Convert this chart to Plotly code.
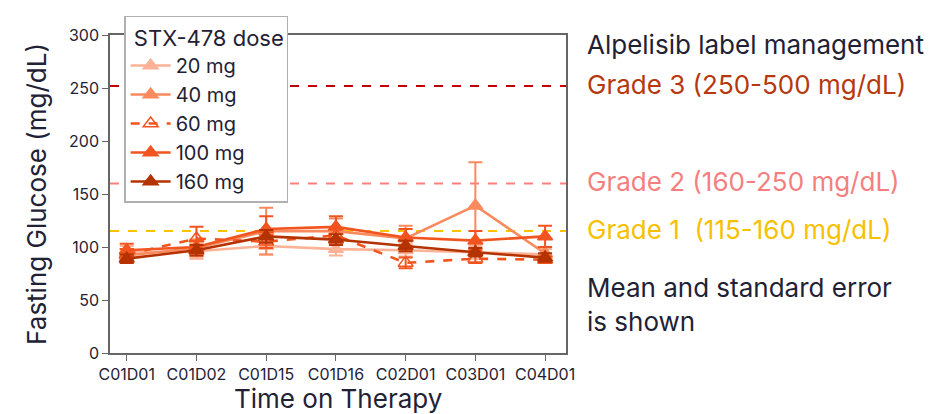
import plotly.graph_objects as go

visits = ["C01D01", "C01D02", "C01D15", "C01D16", "C02D01", "C03D01", "C04D01"]

dose_20 = [95, 96, 101, 98, 97, 95, 93]
dose_20_se = [6, 7, 8, 6, 6, 6, 5]
dose_40 = [92, 99, 115, 115, 108, 139, 94]
dose_40_se = [6, 8, 22, 12, 12, 41, 6]
dose_60 = [93, 108, 105, 111, 85, 89, 88]
dose_60_se = [5, 11, 6, 6, 5, 4, 3]
dose_100 = [97, 100, 117, 119, 109, 106, 110]
dose_100_se = [6, 6, 12, 10, 8, 9, 10]
dose_160 = [89, 97, 110, 107, 101, 95, 90]
dose_160_se = [4, 5, 6, 5, 5, 4, 4]

series_names = ["20 mg", "40 mg", "60 mg", "100 mg", "160 mg"]
thresholds = [252, 160, 115]
threshold_labels = ["Grade 3 (250-500 mg/dL)", "Grade 2 (160-250 mg/dL)", "Grade 1  (115-160 mg/dL)"]
threshold_colors = ["#c00000", "#ff7f7f", "#ffc000"]
threshold_text_colors = ["#b5380e", "#f47f7f", "#f7c000"]

FONT = "Inter, Roboto, sans-serif"
DARK = "#1f2235"

styles = [
    dict(color="#fcb296", dash="solid", symbol="triangle-up"),
    dict(color="#f98a5e", dash="solid", symbol="triangle-up"),
    dict(color="#f2541f", dash="dash", symbol="triangle-up-open"),
    dict(color="#f2541f", dash="solid", symbol="triangle-up"),
    dict(color="#b43300", dash="solid", symbol="triangle-up"),
]
values = [dose_20, dose_40, dose_60, dose_100, dose_160]
errors = [dose_20_se, dose_40_se, dose_60_se, dose_100_se, dose_160_se]

fig = go.Figure()

for name, vals, err, st in zip(series_names, values, errors, styles):
    fig.add_trace(go.Scatter(
        x=visits, y=vals, name=name, mode="lines+markers",
        line=dict(color=st["color"], width=2.6, dash=st["dash"]),
        marker=dict(symbol=st["symbol"], size=13, color=st["color"],
                    line=dict(color=st["color"], width=1.5)),
        error_y=dict(type="data", array=err, visible=True, color=st["color"],
                     thickness=2, width=7),
    ))

for yv, col in zip(thresholds, threshold_colors):
    fig.add_shape(type="line", xref="paper", x0=0, x1=1, yref="y", y0=yv, y1=yv,
                  line=dict(color=col, width=2, dash="dash"), layer="below")

fig.add_annotation(text="Alpelisib label management", xref="paper", x=1.041,
                   yref="y", y=291, xanchor="left", yanchor="middle", showarrow=False,
                   font=dict(family=FONT, size=26, color=DARK))
for yv, lab, col in zip(thresholds, threshold_labels, threshold_text_colors):
    fig.add_annotation(text=lab, xref="paper", x=1.041, yref="y", y=yv + 1.5,
                       xanchor="left", yanchor="middle", showarrow=False,
                       font=dict(family=FONT, size=26, color=col))

fig.add_annotation(text="Mean and standard error<br>is shown", xref="paper", x=1.041,
                   yref="y", y=46, xanchor="left", yanchor="middle", align="left",
                   showarrow=False, font=dict(family=FONT, size=26, color=DARK))

fig.add_annotation(text="Time on Therapy", xref="paper", x=0.5, yref="paper", y=-0.143,
                   xanchor="center", yanchor="middle", showarrow=False,
                   font=dict(family=FONT, size=26, color=DARK))

fig.update_layout(
    width=952, height=414,
    margin=dict(l=110, r=386, t=35, b=61),
    paper_bgcolor="white", plot_bgcolor="white",
    font=dict(family=FONT, color=DARK),
    showlegend=True,
    legend=dict(
        title=dict(text="\u00a0STX-478 dose", font=dict(size=22, color=DARK)),
        font=dict(size=20, color=DARK),
        x=0.031, y=1.06, xanchor="left", yanchor="top",
        bgcolor="white", bordercolor="#b0b0b0", borderwidth=1.5,
        tracegroupgap=0, itemwidth=40,
    ),
    xaxis=dict(
        range=[-0.24, 6.3], showgrid=False, zeroline=False, automargin=False,
        showline=True, linecolor="#666666", linewidth=1.5, mirror=True,
        ticks="outside", ticklen=6, tickcolor="#666666",
        tickfont=dict(size=16, color=DARK),
    ),
    yaxis=dict(
        range=[0, 300], tickvals=[0, 50, 100, 150, 200, 250, 300],
        showgrid=False, zeroline=False, automargin=False,
        showline=True, linecolor="#666666", linewidth=1.5, mirror=True,
        ticks="outside", ticklen=6, tickcolor="#666666",
        tickfont=dict(size=16, color=DARK),
        title=dict(text="Fasting Glucose (mg/dL)", font=dict(size=26, color=DARK), standoff=15),
    ),
)

fig.write_html("out.html")
